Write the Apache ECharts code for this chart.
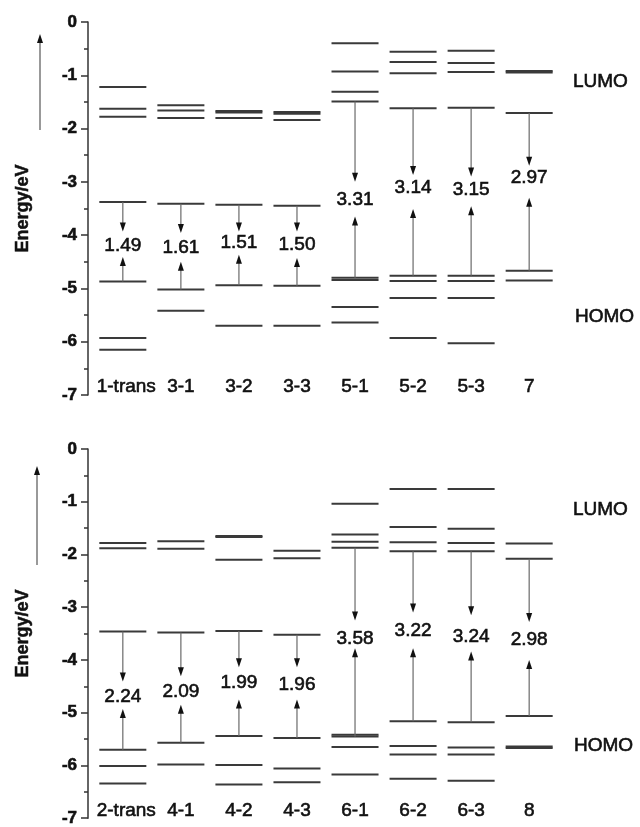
<!DOCTYPE html>
<html>
<head>
<meta charset="utf-8">
<script src="https://cdn.jsdelivr.net/npm/echarts@6/dist/echarts.min.js"></script>
<style>
html, body { margin: 0; padding: 0; background: #fff; }
#main { width: 640px; height: 827px; }
</style>
</head>
<body>
<div id="main"></div>
<script>
// top panel
var names1 = ['1-trans', '3-1', '3-2', '3-3', '5-1', '5-2', '5-3', '7'];
var lumo1 = [-3.38, -3.41, -3.43, -3.45, -1.49, -1.62, -1.61, -1.71];
var homo1 = [-4.87, -5.02, -4.94, -4.95, -4.80, -4.76, -4.76, -4.67];
var gap1 = ['1.49', '1.61', '1.51', '1.50', '3.31', '3.14', '3.15', '2.97'];
var upper1 = [[-1.22, -1.63, -1.78], [-1.56, -1.66, -1.80], [-1.67, -1.70, -1.80], [-1.69, -1.72, -1.84],
              [-0.40, -0.93, -1.31], [-0.56, -0.75, -0.96], [-0.54, -0.77, -0.94], [-0.92, -0.95]];
var lower1 = [[-5.93, -6.15], [-5.42], [-5.70], [-5.70],
              [-4.84, -5.35, -5.64], [-4.86, -5.18, -5.93], [-4.86, -5.18, -6.03], [-4.85]];
var downTo1 = [-3.93, -3.96, -3.93, -3.93, -3.00, -2.87, -2.90, -2.70];
var upTo1 = [-4.41, -4.50, -4.37, -4.43, -3.65, -3.51, -3.46, -3.30];
var labelY1 = [-4.20, -4.23, -4.15, -4.18, -3.33, -3.11, -3.14, -2.93];

// bottom panel
var names2 = ['2-trans', '4-1', '4-2', '4-3', '6-1', '6-2', '6-3', '8'];
var lumo2 = [-3.46, -3.48, -3.45, -3.52, -1.87, -1.94, -1.94, -2.08];
var homo2 = [-5.70, -5.57, -5.44, -5.48, -5.45, -5.16, -5.18, -5.06];
var gap2 = ['2.24', '2.09', '1.99', '1.96', '3.58', '3.22', '3.24', '2.98'];
var upper2 = [[-1.78, -1.88], [-1.75, -1.89], [-1.65, -1.67, -2.10], [-1.93, -2.07],
              [-1.04, -1.62, -1.76], [-0.76, -1.48, -1.77], [-0.76, -1.51, -1.78], [-1.79]];
var lower2 = [[-6.01, -6.34], [-5.98], [-5.99, -6.36], [-6.06, -6.32],
              [-5.42, -5.65, -6.17], [-5.63, -5.79, -6.25], [-5.66, -5.79, -6.29], [-5.64, -5.67]];
var downTo2 = [-4.41, -4.31, -4.14, -4.14, -3.25, -3.10, -3.15, -3.28];
var upTo2 = [-4.93, -4.85, -4.75, -4.75, -3.78, -3.78, -3.84, -4.00];
var labelY2 = [-4.69, -4.61, -4.44, -4.47, -3.60, -3.44, -3.56, -3.61];

var yTicks = [0, -1, -2, -3, -4, -5, -6, -7];

var FONT = 'Liberation Sans, Arial, sans-serif';
var myChart = echarts.init(document.getElementById('main'));

function levelData(lumo, homo, upper, lower) {
    var d = [];
    for (var i = 0; i < lumo.length; i++) {
        d.push([i, lumo[i]]);
        d.push([i, homo[i]]);
        upper[i].forEach(function (e) { d.push([i, e]); });
        lower[i].forEach(function (e) { d.push([i, e]); });
    }
    return d;
}

function arrowData(lumo, homo, downTo, upTo) {
    var d = [];
    for (var i = 0; i < lumo.length; i++) {
        d.push([i, lumo[i], downTo[i]]);
        d.push([i, homo[i], upTo[i]]);
    }
    return d;
}

function renderLevel(params, api) {
    var i = api.value(0), e = api.value(1);
    var p1 = api.coord([i - 0.405, e]);
    var p2 = api.coord([i + 0.405, e]);
    return {
        type: 'line',
        shape: { x1: p1[0], y1: p1[1], x2: p2[0], y2: p2[1] },
        style: { stroke: '#3a3a3a', lineWidth: 2 }
    };
}

function renderArrow(params, api) {
    var i = api.value(0);
    var a = api.coord([i, api.value(1)]);
    var b = api.coord([i, api.value(2)]);
    var dir = b[1] > a[1] ? 1 : -1;
    var headLen = 9, headW = 3;
    var base = b[1] - dir * headLen;
    return {
        type: 'group',
        children: [
            { type: 'line', shape: { x1: a[0], y1: a[1], x2: a[0], y2: base + dir * 2 },
              style: { stroke: '#6a6a6a', lineWidth: 1.2 } },
            { type: 'polygon', shape: { points: [[b[0], b[1]], [b[0] - headW, base], [b[0] + headW, base]] },
              style: { fill: '#111' } }
        ]
    };
}

function textRenderer(texts, firstLeft) {
    return function (params, api) {
        var i = api.value(0);
        var left = firstLeft && i === 0;
        var p = api.coord([left ? i - 0.45 : i, api.value(1)]);
        return {
            type: 'text',
            x: p[0], y: p[1],
            style: {
                text: texts[params.dataIndex],
                align: left ? 'left' : 'center',
                verticalAlign: 'middle',
                fontSize: 19, fontFamily: FONT, fill: '#111',
                stroke: '#111', lineWidth: 0.6
            }
        };
    };
}

function panelSeries(idx, names, lumo, homo, gap, upper, lower, downTo, upTo, labelY) {
    var nameData = names.map(function (n, i) { return [i, -6.85]; });
    var gapData = gap.map(function (g, i) { return [i, labelY[i]]; });
    return [
        { type: 'custom', xAxisIndex: idx, yAxisIndex: idx, renderItem: renderLevel,
          encode: { x: 0, y: 1 }, data: levelData(lumo, homo, upper, lower), silent: true },
        { type: 'custom', xAxisIndex: idx, yAxisIndex: idx, renderItem: renderArrow,
          encode: { x: 0, y: [1, 2] }, data: arrowData(lumo, homo, downTo, upTo), silent: true },
        { type: 'custom', xAxisIndex: idx, yAxisIndex: idx, renderItem: textRenderer(gap, false),
          encode: { x: 0, y: 1 }, data: gapData, silent: true },
        { type: 'custom', xAxisIndex: idx, yAxisIndex: idx, renderItem: textRenderer(names, true),
          encode: { x: 0, y: 1 }, data: nameData, silent: true }
    ];
}

function yAxisCfg(gridIndex) {
    return {
        type: 'value', gridIndex: gridIndex,
        min: yTicks[yTicks.length - 1], max: yTicks[0], interval: 1,
        name: 'Energy/eV', nameLocation: 'middle', nameGap: 56,
        nameTextStyle: { fontSize: 18, fontWeight: 'bold', fontFamily: FONT, color: '#111',
                         textBorderColor: '#111', textBorderWidth: 0.5 },
        axisLine: { show: true, onZero: false, lineStyle: { color: '#333', width: 1.5 } },
        axisTick: { show: true, length: 7, lineStyle: { color: '#333', width: 1.5 } },
        minorTick: { show: true, splitNumber: 2, length: 4, lineStyle: { color: '#333', width: 1.5 } },
        axisLabel: { margin: 11, fontSize: 17, fontWeight: 'bold', fontFamily: FONT, color: '#111',
                     textBorderColor: '#111', textBorderWidth: 0.6 },
        splitLine: { show: false }
    };
}

function xAxisCfg(gridIndex) {
    return { type: 'value', gridIndex: gridIndex, min: -0.6, max: 7.6, show: false };
}

function sideArrow(x, yBottom, yTop) {
    return [
        { type: 'line', shape: { x1: x, y1: yBottom, x2: x, y2: yTop + 6 },
          style: { stroke: '#555', lineWidth: 1.2 } },
        { type: 'polygon', shape: { points: [[x, yTop], [x - 3, yTop + 9], [x + 3, yTop + 9]] },
          style: { fill: '#111' } }
    ];
}

function sideLabel(text, x, y) {
    return { type: 'text', x: x, y: y,
             style: { text: text, fontSize: 19, fontFamily: FONT, fill: '#111',
                      stroke: '#111', lineWidth: 0.6, verticalAlign: 'middle' } };
}

var option = {
    animation: false,
    grid: [
        { left: 88, top: 22, width: 476, height: 373 },
        { left: 88, top: 449, width: 476, height: 374 }
    ],
    xAxis: [xAxisCfg(0), xAxisCfg(1)],
    yAxis: [yAxisCfg(0), yAxisCfg(1)],
    graphic: sideArrow(40, 130, 34).concat(sideArrow(37, 565, 466)).concat([
        sideLabel('LUMO', 573, 82),
        sideLabel('HOMO', 575, 317),
        sideLabel('LUMO', 573, 510),
        sideLabel('HOMO', 574, 746)
    ]),
    series: panelSeries(0, names1, lumo1, homo1, gap1, upper1, lower1, downTo1, upTo1, labelY1)
        .concat(panelSeries(1, names2, lumo2, homo2, gap2, upper2, lower2, downTo2, upTo2, labelY2))
};
myChart.setOption(option);
</script>
</body>
</html>
